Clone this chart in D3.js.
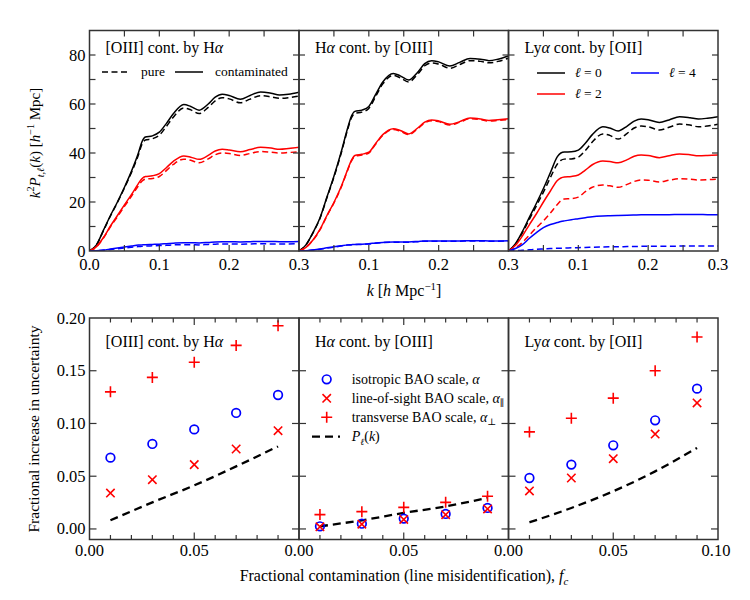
<!DOCTYPE html>
<html><head><meta charset="utf-8">
<script src="https://cdn.jsdelivr.net/npm/d3@7"></script>
<style>
body{margin:0;background:#fff}
text{font-family:"Liberation Serif","DejaVu Serif",serif;fill:#000}
</style>
</head><body>
<svg id="c" width="750" height="600"></svg>
<script>
// ---------- DATA: top row, k^2 P(k) multipoles ----------
const kGrid = [0,0.01,0.02,0.03,0.04,0.05,0.06,0.07,0.075,0.08,0.09,0.1,0.11,0.12,0.135,0.145,0.157,0.17,0.18,0.19,0.2,0.216,0.23,0.245,0.26,0.272,0.285,0.3];

// [OIII] contaminated by Halpha
const oiii_l0_cont = [0,2.5,8.5,14.5,20,26,32.5,40,44.5,46.5,47,48.5,52,56,59.8,59,57.5,60,62.8,64,63.5,61.9,63.5,64.9,64.4,63.7,64,64.8];
const oiii_l0_pure = [0,2.5,8.3,14.3,19.8,25.7,32,39.2,43.5,45.3,45.8,47.3,50.8,54.6,58.4,57.6,56.1,58.6,61.3,62.6,62.1,60.5,62,63.4,62.9,62.3,62.6,63.3];
const oiii_l2_cont = [0,1.8,5.5,10.2,14.5,18.8,23,27.5,29.5,30.4,30.7,31.6,34,36.6,38.8,38.3,37.4,39,40.8,41.5,41.2,40.5,41.4,42.3,42,41.5,41.8,42.3];
const oiii_l2_pure = [0,1.7,5.3,9.9,14,18.2,22.3,26.6,28.5,29.3,29.6,30.4,32.8,35.3,37.5,37,36,37.6,39.3,40,39.8,39,39.8,40.6,40.3,40,40.2,40.5];
const oiii_l4_cont = [0,0.1,0.4,0.8,1.2,1.6,2.0,2.4,2.5,2.6,2.7,2.8,3.0,3.2,3.4,3.4,3.3,3.5,3.7,3.8,3.8,3.7,3.8,3.9,3.9,3.8,3.8,3.9];
const oiii_l4_pure = [0,0.1,0.3,0.6,0.9,1.2,1.5,1.8,1.9,2.0,2.1,2.2,2.3,2.5,2.6,2.6,2.5,2.7,2.8,2.9,2.9,2.8,2.9,3.0,2.9,2.9,2.9,3.0];

// Halpha contaminated by [OIII]
const ha_l0_cont = [0,2.5,7.5,13.5,22,30.5,40,50.5,55,57,57.5,59,64,69,72.5,71.5,69.8,73,76.5,77.7,77.2,75.5,77,78.6,78.3,77.7,78.3,79.6];
const ha_l0_pure = [0,2.5,7.4,13.3,21.7,30.1,39.5,49.9,54.3,56.2,56.7,58.2,63.2,68.2,71.7,70.7,69,72.2,75.6,76.8,76.3,74.6,76.1,77.7,77.4,76.8,77.4,78.7];
const ha_l2_cont = [0,1.5,4.5,8.8,14.5,19.8,26,33.5,37,39,39.5,40.3,44,47.5,49.9,49.2,47.8,50.2,52.6,53.5,53.1,51.7,52.8,54.3,53.9,53.3,53.6,54];
const ha_l2_pure = [0,1.5,4.4,8.6,14.3,19.6,25.7,33.2,36.7,38.7,39.2,40,43.7,47.2,49.6,48.9,47.5,49.9,52.3,53.2,52.8,51.4,52.5,54,53.6,53,53.3,53.7];
const ha_l4_cont = [0,0.1,0.4,0.8,1.3,1.7,2.1,2.5,2.6,2.7,2.8,3.0,3.3,3.5,3.7,3.7,3.7,3.9,4.1,4.1,4.1,4.1,4.1,4.2,4.2,4.1,4.1,4.2];
const ha_l4_pure = [0,0.1,0.4,0.7,1.2,1.6,2.0,2.4,2.5,2.6,2.7,2.9,3.2,3.4,3.6,3.6,3.6,3.8,4.0,4.0,4.0,4.0,4.0,4.1,4.1,4.0,4.0,4.1];

// Lyalpha contaminated by [OII]
const lya_l0_cont = [0,3,8,13.8,19.5,25.5,32,38.5,40,40.4,40.5,41.2,44,47.5,50.7,50.2,49,51,53,53.9,53.6,52.5,53.5,54.8,54.4,53.9,54.2,54.8];
const lya_l0_pure = [0,2.8,7.5,13,18.5,24,30,35.5,37,37.5,37.6,38.3,41,44.5,47.8,47.2,45.7,48,50.2,51,50.7,49.4,50.5,51.8,51.4,50.7,51,51.7];
const lya_l2_cont = [0,2.3,6.2,10.8,15.2,20,24.5,28.8,29.8,30.2,30.4,31,33,35.2,36.7,36.5,36,37.3,38.7,39.2,39,38.1,38.9,39.6,39.3,38.9,39,39.2];
const lya_l2_pure = [0,1.3,3.5,6.5,9.5,12.3,15.5,19,20.5,21.2,21.4,22,24.2,26,26.9,26.6,26,27.2,28.4,29,28.9,28.2,28.9,29.5,29.3,29,29.1,29.4];
const lya_l4_cont = [0,1.0,2.6,5.2,7.5,9.5,10.8,11.6,12,12.3,12.8,13.2,13.6,14,14.3,14.4,14.5,14.6,14.7,14.8,14.8,14.8,14.8,14.9,14.9,14.9,14.8,14.8];
const lya_l4_pure = [0,0.1,0.3,0.5,0.7,0.85,1.0,1.1,1.15,1.2,1.3,1.35,1.45,1.55,1.65,1.7,1.75,1.8,1.85,1.9,1.9,1.95,1.95,2.0,2.0,2.0,2.0,2.0];

// ---------- DATA: bottom row, fractional increase in BAO uncertainty ----------
const fc = [0.01,0.03,0.05,0.07,0.09];
const oiii_iso   = [0.0676,0.0806,0.0944,0.110,0.127];
const oiii_los   = [0.034,0.0467,0.061,0.0758,0.0932];
const oiii_trans = [0.130,0.1437,0.158,0.174,0.1927];
const oiii_pk    = [0.0082,0.0252,0.0413,0.0593,0.0783];
const ha_iso     = [0.0025,0.005,0.0098,0.0142,0.0199];
const ha_los     = [0.002,0.0045,0.009,0.0135,0.019];
const ha_trans   = [0.0136,0.0164,0.0205,0.0252,0.031];
const ha_pk      = [0.0025,0.0082,0.0152,0.0214,0.0294];
const lya_iso    = [0.0483,0.061,0.0793,0.103,0.133];
const lya_los    = [0.036,0.0483,0.0666,0.090,0.1195];
const lya_trans  = [0.092,0.105,0.124,0.150,0.182];
const lya_pk     = [0.0063,0.0199,0.0357,0.0546,0.0768];

// tick labels
const topXTickLabels = [["0.0","0.1","0.2","0.3"],["0.1","0.2","0.3"],["0.1","0.2","0.3"]];
const topYTickLabels = ["0","20","40","60","80"];
const botXTickLabels = [["0.00","0.05"],["0.00","0.05"],["0.00","0.05","0.10"]];
const botYTickLabels = ["0.00","0.05","0.10","0.15","0.20"];

// ---------- LAYOUT ----------
const svg = d3.select("#c");
const RED="#ff0000", BLUE="#0000ff", BLK="#000000", FRAME="#333333";
const panelX = [89.5, 299, 508.5], panelW = 209.5;
const top0 = 30.5, top1 = 251;
const bot0 = 318, bot1 = 539.5;
const FS = 16, TFS = 16.5, LFS = 13.5;

const topPanels = [
  {title:[["[OIII] cont. by H",""],["α","i"]], curves:[
    [oiii_l0_pure,BLK,true],[oiii_l0_cont,BLK,false],
    [oiii_l2_pure,RED,true],[oiii_l2_cont,RED,false],
    [oiii_l4_pure,BLUE,true],[oiii_l4_cont,BLUE,false]]},
  {title:[["H",""],["α","i"],[" cont. by [OIII]",""]], curves:[
    [ha_l0_pure,BLK,true],[ha_l0_cont,BLK,false],
    [ha_l2_pure,RED,true],[ha_l2_cont,RED,false],
    [ha_l4_pure,BLUE,true],[ha_l4_cont,BLUE,false]]},
  {title:[["Ly",""],["α","i"],[" cont. by [OII]",""]], curves:[
    [lya_l0_pure,BLK,true],[lya_l0_cont,BLK,false],
    [lya_l2_pure,RED,true],[lya_l2_cont,RED,false],
    [lya_l4_pure,BLUE,true],[lya_l4_cont,BLUE,false]]}
];
const botPanels = [
  {title:[["[OIII] cont. by H",""],["α","i"]], iso:oiii_iso, los:oiii_los, trans:oiii_trans, pk:oiii_pk},
  {title:[["H",""],["α","i"],[" cont. by [OIII]",""]], iso:ha_iso, los:ha_los, trans:ha_trans, pk:ha_pk},
  {title:[["Ly",""],["α","i"],[" cont. by [OII]",""]], iso:lya_iso, los:lya_los, trans:lya_trans, pk:lya_pk}
];

function richText(g, x, y, parts, size, anchor){
  const t = g.append("text").attr("x",x).attr("y",y).attr("font-size",size)
    .attr("text-anchor",anchor||"start");
  let shift = 0;
  parts.forEach(p=>{
    const [s, st] = p;
    const ts = t.append("tspan").text(s);
    if (st.includes("i")) ts.attr("font-style","italic");
    let target = 0, sz = null;
    if (st.includes("^")) { target = -0.4*size; sz = 0.68*size; }
    if (st.includes("_")) { target = 0.25*size; sz = 0.68*size; }
    ts.attr("dy", target - shift); shift = target;
    if (sz) ts.attr("font-size", sz);
  });
  return t;
}

function frameAndTicks(g, x0, y0, x1, y1, xs, ys, xTicks, yTicks, lenX, lenY){
  const tk = g.append("g").attr("stroke",FRAME).attr("stroke-width",1.2);
  xTicks.forEach(v=>{
    const x = xs(v);
    tk.append("line").attr("x1",x).attr("x2",x).attr("y1",y1).attr("y2",y1-lenX(v));
    tk.append("line").attr("x1",x).attr("x2",x).attr("y1",y0).attr("y2",y0+lenX(v));
  });
  yTicks.forEach(v=>{
    const y = ys(v);
    tk.append("line").attr("x1",x0).attr("x2",x0+lenY(v)).attr("y1",y).attr("y2",y);
    tk.append("line").attr("x1",x1).attr("x2",x1-lenY(v)).attr("y1",y).attr("y2",y);
  });
  g.append("rect").attr("x",x0).attr("y",y0).attr("width",x1-x0).attr("height",y1-y0)
    .attr("fill","none").attr("stroke",FRAME).attr("stroke-width",1.5);
}

// ---------- TOP ROW ----------
topPanels.forEach((p,i)=>{
  const x0 = panelX[i], x1 = x0+panelW;
  const xs = d3.scaleLinear().domain([0,0.3]).range([x0,x1]);
  const ys = d3.scaleLinear().domain([0,90]).range([top1,top0]);
  const g = svg.append("g");
  const cid = "ct"+i;
  svg.append("clipPath").attr("id",cid).append("rect")
    .attr("x",x0).attr("y",top0).attr("width",panelW).attr("height",top1-top0);
  const line = d3.line().x((d,j)=>xs(kGrid[j])).y(d=>ys(d)).curve(d3.curveMonotoneX);
  const cg = g.append("g").attr("clip-path",`url(#${cid})`);
  p.curves.forEach(([vals,col,dash])=>{
    cg.append("path").attr("d",line(vals)).attr("fill","none").attr("stroke",col)
      .attr("stroke-width",1.5).attr("stroke-dasharray",dash?"6,3.5":null);
  });
  frameAndTicks(g,x0,top0,x1,top1,xs,ys,d3.range(0.05,0.3,0.05),d3.range(10,90,10),()=>6,()=>6);
  richText(g, x0+16, 53, p.title, FS);
  topXTickLabels[i].forEach(s=>{
    g.append("text").attr("x",xs(+s)).attr("y",270).attr("text-anchor","middle")
      .attr("font-size",TFS).text(s);
  });
  if (i===0){
    topYTickLabels.forEach(s=>{
      g.append("text").attr("x",x0-4).attr("y",ys(+s)+5.5).attr("text-anchor","end")
        .attr("font-size",TFS).text(s);
    });
  }
});

// top legends
{
  const g = svg.append("g");
  const yL = 72;
  g.append("line").attr("x1",102).attr("x2",130).attr("y1",yL).attr("y2",yL)
    .attr("stroke",BLK).attr("stroke-width",1.5).attr("stroke-dasharray","6,3.5");
  g.append("text").attr("x",141).attr("y",yL+4).attr("font-size",LFS).text("pure");
  g.append("line").attr("x1",175).attr("x2",203).attr("y1",yL).attr("y2",yL)
    .attr("stroke",BLK).attr("stroke-width",1.5);
  g.append("text").attr("x",215).attr("y",yL+4).attr("font-size",LFS).text("contaminated");

  const items = [[537,73,BLK,"0"],[631,73,BLUE,"4"],[537,94,RED,"2"]];
  items.forEach(([x,y,c,n])=>{
    g.append("line").attr("x1",x).attr("x2",x+28).attr("y1",y).attr("y2",y)
      .attr("stroke",c).attr("stroke-width",1.5);
    richText(g, x+38, y+4, [["ℓ","i"],[" = "+n,""]], LFS);
  });
}

// ---------- BOTTOM ROW ----------
botPanels.forEach((p,i)=>{
  const x0 = panelX[i], x1 = x0+panelW;
  const xs = d3.scaleLinear().domain([0,0.1]).range([x0,x1]);
  const ys = d3.scaleLinear().domain([-0.01,0.2]).range([bot1,bot0]);
  const g = svg.append("g");
  const line = d3.line().x((d,j)=>xs(fc[j])).y(d=>ys(d)).curve(d3.curveMonotoneX);
  g.append("path").attr("d",line(p.pk)).attr("fill","none").attr("stroke",BLK)
    .attr("stroke-width",2.3).attr("stroke-dasharray","8,5");
  p.trans.forEach((v,j)=>{
    const x=xs(fc[j]), y=ys(v), r=5.5;
    g.append("path").attr("d",`M${x-r},${y}H${x+r}M${x},${y-r}V${y+r}`)
      .attr("stroke",RED).attr("stroke-width",1.6).attr("fill","none");
  });
  p.iso.forEach((v,j)=>{
    g.append("circle").attr("cx",xs(fc[j])).attr("cy",ys(v)).attr("r",4.3)
      .attr("fill","none").attr("stroke",BLUE).attr("stroke-width",1.7);
  });
  p.los.forEach((v,j)=>{
    const x=xs(fc[j]), y=ys(v), r=4.2;
    g.append("path").attr("d",`M${x-r},${y-r}L${x+r},${y+r}M${x-r},${y+r}L${x+r},${y-r}`)
      .attr("stroke",RED).attr("stroke-width",1.6).attr("fill","none");
  });
  frameAndTicks(g,x0,bot0,x1,bot1,xs,ys,d3.range(0.01,0.1,0.01),[0,0.05,0.1,0.15],
    v=>(Math.abs(v-0.05)<1e-6?7:4.5),()=>7);
  richText(g, x0+16, 347, p.title, FS);
  botXTickLabels[i].forEach(s=>{
    g.append("text").attr("x",xs(+s)+ (s==="0.10"?-2:0)).attr("y",556).attr("text-anchor","middle")
      .attr("font-size",TFS).text(s);
  });
  if (i===0){
    botYTickLabels.forEach(s=>{
      g.append("text").attr("x",x0-4).attr("y",ys(+s)+5.5).attr("text-anchor","end")
        .attr("font-size",TFS).text(s);
    });
  }
});

// bottom legend (middle panel)
{
  const g = svg.append("g");
  const mx = 326.7, tx = 351.7, LF2 = 14;
  const ys = [379.3, 398.3, 417.3];
  g.append("circle").attr("cx",mx).attr("cy",ys[0]).attr("r",4.3)
    .attr("fill","none").attr("stroke",BLUE).attr("stroke-width",1.7);
  richText(g, tx, ys[0]+4.5, [["isotropic BAO scale, ",""],["α","i"]], LF2);
  {
    const r=4.2, x=mx, y=ys[1];
    g.append("path").attr("d",`M${x-r},${y-r}L${x+r},${y+r}M${x-r},${y+r}L${x+r},${y-r}`)
      .attr("stroke",RED).attr("stroke-width",1.6).attr("fill","none");
  }
  richText(g, tx, ys[1]+4.5, [["line-of-sight BAO scale, ",""],["α","i"],["∥","_"]], LF2);
  {
    const r=5.5, x=mx, y=ys[2];
    g.append("path").attr("d",`M${x-r},${y}H${x+r}M${x},${y-r}V${y+r}`)
      .attr("stroke",RED).attr("stroke-width",1.6).attr("fill","none");
  }
  richText(g, tx, ys[2]+4.5, [["transverse BAO scale, ",""],["α","i"],["⊥","_"]], LF2);
  g.append("line").attr("x1",312).attr("x2",340).attr("y1",436.7).attr("y2",436.7)
    .attr("stroke",BLK).attr("stroke-width",2.3).attr("stroke-dasharray","8,5");
  richText(g, tx, 441.2, [["P","i"],["ℓ","i_"],["(",""],["k","i"],[")",""]], LF2);
}

// ---------- AXIS LABELS ----------
richText(svg, 404, 296, [["k","i"],[" [",""],["h","i"],[" Mpc",""],["−1","^"],["]",""]], FS, "middle");
richText(svg, 404, 581, [["Fractional contamination (line misidentification), ",""],["f","i"],["c","i_"]], FS, "middle");
richText(svg.append("g").attr("transform","translate(40,143) rotate(-90)"), 0, 0,
  [["k","i"],["2","^"],["P","i"],["t,ℓ","i_"],["(",""],["k","i"],[") [",""],["h","i"],["−1","^"],[" Mpc]",""]], 15, "middle");
richText(svg.append("g").attr("transform","translate(39,429) rotate(-90)"), 0, 0,
  [["Fractional increase in uncertainty",""]], 15.5, "middle");
</script>
</body></html>
